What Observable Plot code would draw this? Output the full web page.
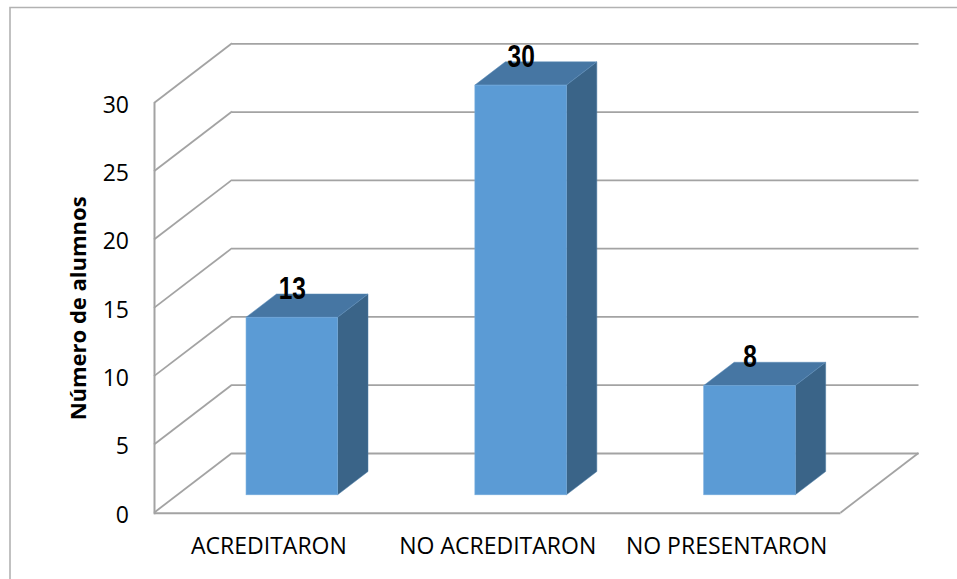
<!DOCTYPE html>
<html>
<head>
<meta charset="utf-8">
<script src="https://cdn.jsdelivr.net/npm/d3@7"></script>
<script src="https://cdn.jsdelivr.net/npm/@observablehq/plot@0.6"></script>
<style>
  html, body { margin: 0; padding: 0; background: #fff; }
  svg { display: block; }
</style>
</head>
<body>
<div id="chart"></div>
<script>
const categories = ["ACREDITARON", "NO ACREDITARON", "NO PRESENTARON"];
const values = [13, 30, 8];
const yTicks = [0, 5, 10, 15, 20, 25, 30];
const yLabel = "Número de alumnos";

const font = "'Open Sans', sans-serif";
const gridColor = "#a3a3a3";
const frameColor = "#b2b2b2";
const frontColor = "#5b9bd5";
const topColor = "#4676a3";
const sideColor = "#3a6488";

// oblique projection of the chart's depth axis, in pixels
const wallDx = 78, wallDy = -59.7;
const barNear = 0.3, barFar = 0.69;

const data = categories.map((c, i) => ({category: c, value: values[i]}));
const NS = "http://www.w3.org/2000/svg";
const bw = (s) => (typeof s.bandwidth === "function" ? s.bandwidth() : s.bandwidth);

function wallDiagonals(index, {y}, channels, {marginLeft, width, marginRight}) {
  const g = document.createElementNS(NS, "g");
  const seg = (x, yy) => {
    const l = document.createElementNS(NS, "line");
    l.setAttribute("x1", x); l.setAttribute("y1", yy);
    l.setAttribute("x2", x + wallDx); l.setAttribute("y2", yy + wallDy);
    l.setAttribute("stroke", gridColor); l.setAttribute("stroke-width", 1.8);
    g.appendChild(l);
  };
  yTicks.forEach((t) => seg(marginLeft, y(t)));
  seg(width - marginRight, y(0));
  return g;
}

function barFaces(side) {
  return (index, {x, y}) => {
    const g = document.createElementNS(NS, "g");
    const w = bw(x);
    data.forEach((d) => {
      const xl = x(d.category) + wallDx * barNear, xr = xl + w;
      const yb = y(0) + wallDy * barNear, yt = y(d.value) + wallDy * barNear;
      const ox = wallDx * (barFar - barNear), oy = wallDy * (barFar - barNear);
      const pts = side
        ? [[xr, yt], [xr + ox, yt + oy], [xr + ox, yb + oy], [xr, yb]]
        : [[xl, yt], [xl + ox, yt + oy], [xr + ox, yt + oy], [xr, yt]];
      const p = document.createElementNS(NS, "polygon");
      p.setAttribute("points", pts.map((q) => q.join(",")).join(" "));
      p.setAttribute("fill", side ? sideColor : topColor);
      p.setAttribute("stroke", side ? "#4f7ea8" : "#5d8cb8");
      p.setAttribute("stroke-width", 0.5);
      g.appendChild(p);
    });
    return g;
  };
}

const chart = Plot.plot({
  width: 957,
  height: 579,
  marginLeft: 154,
  marginRight: 116.5,
  marginTop: 103,
  marginBottom: 66.3,
  style: {background: "#fff", fontFamily: font, overflow: "visible"},
  x: {domain: categories, paddingInner: 0.6, paddingOuter: 0.3, round: false, label: null},
  y: {domain: [0, 30], label: null},
  marks: [
    // back wall grid
    Plot.ruleY(yTicks, {dx: wallDx, dy: wallDy, stroke: gridColor, strokeWidth: 1.8, strokeOpacity: 1}),
    wallDiagonals,
    // front axis lines
    Plot.ruleY([0], {stroke: gridColor, strokeWidth: 2, strokeOpacity: 1}),
    Plot.frame({anchor: "left", stroke: gridColor, strokeWidth: 2}),
    // bars
    barFaces(true),
    barFaces(false),
    Plot.barY(data, {
      x: "category", y: "value",
      dx: wallDx * barNear, dy: wallDy * barNear,
      fill: frontColor, stroke: "#74abdd", strokeWidth: 0.6
    }),
    // data labels
    Plot.text(data, {
      x: "category", y: "value", text: (d) => String(d.value),
      dx: wallDx * barNear, dy: wallDy * barNear - 29,
      fontFamily: "'Liberation Sans', sans-serif",
      fontWeight: "bold", fontSize: 32, fill: "#000"
    }),
    // axes
    Plot.axisY({ticks: yTicks, label: null, tickSize: 0, tickPadding: 25.5, dy: 2, fontSize: 23, fill: "#000"}),
    Plot.axisX({label: null, tickSize: 0, tickPadding: 24, fontSize: 23, fill: "#000"}),
    Plot.text([yLabel], {
      frameAnchor: "left", dx: -76, rotate: -90, textAnchor: "middle",
      fontSize: 22, fontWeight: "bold", fill: "#000", fontFamily: font
    })
  ]
});

// the data labels are a condensed bold face in the original
d3.select(chart).selectAll('g[font-size="32"] text').each(function () {
  this.setAttribute("textLength", this.textContent.length * 13.6);
  this.setAttribute("lengthAdjust", "spacingAndGlyphs");
});

// outer chart border: top and left edges only
const border = d3.select(chart).append("g").attr("fill", "none").attr("stroke", frameColor).attr("stroke-width", 1.6);
border.append("polyline").attr("points", "10,579 10,7.5 957,7.5");

document.getElementById("chart").appendChild(chart);
</script>
</body>
</html>
